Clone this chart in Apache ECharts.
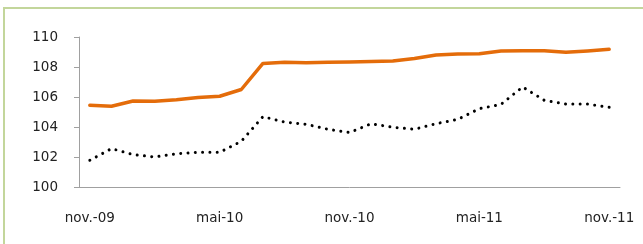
<!DOCTYPE html>
<html>
<head>
<meta charset="utf-8">
<script src="https://cdn.jsdelivr.net/npm/echarts@6/dist/echarts.min.js"></script>
<style>
  html, body { margin: 0; padding: 0; background: #fff; }
  #chart1 { width: 643px; height: 244px; }
</style>
</head>
<body>
<div id="chart1"></div>
<script>
// months nov.-09 .. nov.-11
var months = ['nov.-09','déc.-09','janv.-10','févr.-10','mars-10','avr.-10','mai-10','juin-10','juil.-10','août-10','sept.-10','oct.-10',
              'nov.-10','déc.-10','janv.-11','févr.-11','mars-11','avr.-11','mai-11','juin-11','juil.-11','août-11','sept.-11','oct.-11','nov.-11'];

var serieOrange = [105.45, 105.38, 105.73, 105.71, 105.82, 105.97, 106.05, 106.5, 108.24, 108.31, 108.29, 108.31, 108.33,
                   108.36, 108.4, 108.56, 108.8, 108.86, 108.89, 109.07, 109.09, 109.09, 108.99, 109.07, 109.18];

var serieNoire = [101.78, 102.56, 102.16, 102.0, 102.22, 102.31, 102.31, 103.05, 104.69, 104.33, 104.18, 103.85, 103.63,
                  104.22, 103.98, 103.85, 104.22, 104.51, 105.22, 105.51, 106.67, 105.78, 105.53, 105.53, 105.31];

var yTicks = { min: 100, max: 110, interval: 2 };

var chart1 = echarts.init(document.getElementById('chart1'), null, { renderer: 'canvas' });
chart1.setOption({
    animation: false,
    textStyle: { fontFamily: 'DejaVu Sans' },
    // green frame of the excel chart area (only top and left edges are in the picture)
    graphic: [
        { type: 'polyline', silent: true, shape: { points: [[4, 250], [4, 8], [650, 8]] },
          style: { stroke: '#c3d69b', lineWidth: 2, fill: null } }
    ],
    grid: { left: 79, right: 23, top: 37, bottom: 57 },
    xAxis: {
        type: 'category',
        data: months,
        boundaryGap: true,
        axisLine: { lineStyle: { color: '#a0a0a0', width: 1 } },
        axisTick: { interval: 5, length: 5, lineStyle: { color: '#a0a0a0' } },
        axisLabel: { interval: 5, margin: 24, color: '#222', fontSize: 13.5 }
    },
    yAxis: {
        type: 'value',
        min: yTicks.min,
        max: yTicks.max,
        interval: yTicks.interval,
        axisLine: { show: true, lineStyle: { color: '#a0a0a0', width: 1 } },
        axisTick: { show: true, length: 5, lineStyle: { color: '#a0a0a0' } },
        splitLine: { show: false },
        axisLabel: { margin: 21, color: '#222', fontSize: 13.5 }
    },
    series: [
        {
            name: 'orange',
            type: 'line',
            data: serieOrange,
            showSymbol: false,
            lineStyle: { color: '#e46c0a', width: 3.5, join: 'round', cap: 'round' }
        },
        {
            name: 'noire',
            type: 'line',
            data: serieNoire,
            showSymbol: false,
            lineStyle: { color: '#000', width: 3, type: [0.01, 7.3], cap: 'round' }
        }
    ]
});
</script>
</body>
</html>
